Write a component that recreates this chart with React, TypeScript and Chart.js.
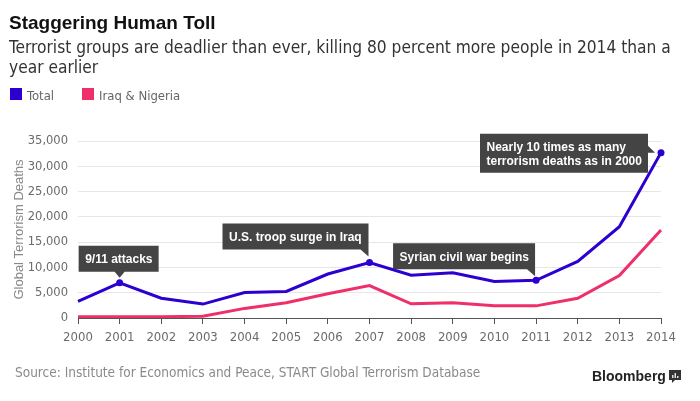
import React, { useEffect, useRef } from "react";
import { Chart, registerables } from "chart.js";

Chart.register(...registerables);

const years = ["2000", "2001", "2002", "2003", "2004", "2005", "2006", "2007", "2008", "2009", "2010", "2011", "2012", "2013", "2014"];
const totalDeaths = [3300, 6950, 3900, 2750, 5050, 5250, 8700, 10950, 8450, 8950, 7200, 7450, 11200, 18050, 32700];
const iraqNigeriaDeaths = [250, 250, 250, 350, 1900, 3000, 4800, 6400, 2800, 3000, 2400, 2400, 3900, 8400, 17400];
const yTicks = [0, 5000, 10000, 15000, 20000, 25000, 30000, 35000];
const seriesNames = ["Total", "Iraq & Nigeria"];
const annotationYears = ["2001", "2007", "2011", "2014"];
const annotationTexts = [
  ["9/11 attacks"],
  ["U.S. troop surge in Iraq"],
  ["Syrian civil war begins"],
  ["Nearly 10 times as many", "terrorism deaths as in 2000"],
];
const titleText = "Staggering Human Toll";
const subtitleLines = [
  "Terrorist groups are deadlier than ever, killing 80 percent more people in 2014 than a",
  "year earlier",
];
const sourceText = "Source: Institute for Economics and Peace, START Global Terrorism Database";
const yAxisTitle = "Global Terrorism Deaths";

const BLUE = "#2c00d0";
const PINK = "#ef2f69";
const COND = "'DejaVu Sans Condensed', 'DejaVu Sans', sans-serif";
const ARIAL = "'Liberation Sans', Arial, sans-serif";

const decorPlugin = {
  id: "decor",
  afterDraw(chart: any) {
    const ctx = chart.ctx as CanvasRenderingContext2D;
    ctx.save();
    // header
    ctx.textAlign = "left";
    ctx.textBaseline = "alphabetic";
    ctx.fillStyle = "#111";
    ctx.font = `bold 19px ${ARIAL}`;
    ctx.fillText(titleText, 9, 28.5);
    ctx.fillStyle = "#333";
    ctx.font = `17.2px ${COND}`;
    subtitleLines.forEach((l, i) => ctx.fillText(l, 9, 53 + i * 20));
    // legend
    ctx.font = `13px ${COND}`;
    const legendX = [10, 82];
    const colors = [BLUE, PINK];
    seriesNames.forEach((n, i) => {
      ctx.fillStyle = colors[i];
      ctx.fillRect(legendX[i], 88, 12, 12);
      ctx.fillStyle = "#666";
      ctx.fillText(n, legendX[i] + 17, 100);
    });
    // source
    ctx.fillStyle = "#8a8a8a";
    ctx.font = `13.5px ${COND}`;
    ctx.fillText(sourceText, 15, 377);
    // Bloomberg
    ctx.fillStyle = "#222";
    ctx.font = `bold 14px ${ARIAL}`;
    ctx.fillText("Bloomberg", 592, 381);
    ctx.fillStyle = "#333";
    ctx.fillRect(669, 370, 12, 10);
    ctx.beginPath();
    ctx.moveTo(672, 380);
    ctx.lineTo(675, 380);
    ctx.lineTo(672, 383);
    ctx.closePath();
    ctx.fill();
    ctx.fillStyle = "#ddd";
    ctx.fillRect(672, 375, 1.5, 3);
    ctx.fillRect(674.5, 373, 1.5, 5);
    ctx.fillRect(677, 376, 1.5, 2);

    // annotations
    const xs = chart.scales.x;
    const ys = chart.scales.y;
    ctx.font = `bold 12px ${ARIAL}`;
    annotationYears.forEach((yr, i) => {
      const idx = years.indexOf(yr);
      const px = xs.getPixelForValue(idx);
      const py = ys.getPixelForValue(totalDeaths[idx]);
      const lines = annotationTexts[i];
      const tw = Math.max(...lines.map((l) => ctx.measureText(l).width));
      const w = Math.round(tw + 13);
      const h = lines.length === 1 ? 26 : 39;
      let left = 0, top = 0;
      ctx.fillStyle = "rgba(58,58,58,0.95)";
      ctx.beginPath();
      if (i === 0) {
        left = px - 41; top = py - 37;
        ctx.rect(left, top, w, h);
        ctx.moveTo(px - 5, top + h);
        ctx.lineTo(px + 5, top + h);
        ctx.lineTo(px, top + h + 6);
      } else if (i === 3) {
        left = px - 13 - w; top = py - 19;
        ctx.rect(left, top, w, h);
        ctx.moveTo(left + w, py - 7);
        ctx.lineTo(left + w + 7, py);
        ctx.lineTo(left + w, py);
      } else {
        left = px - 1 - w; top = i === 1 ? py - 39 : py - 37;
        ctx.rect(left, top, w, h);
        ctx.moveTo(left + w - 8, top + h);
        ctx.lineTo(left + w, top + h);
        ctx.lineTo(left + w, top + h + 7);
      }
      ctx.closePath();
      ctx.fill();
      ctx.fillStyle = "#fff";
      ctx.textBaseline = "alphabetic";
      if (lines.length === 1) {
        ctx.fillText(lines[0], left + 6.5, top + 17.5);
      } else {
        lines.forEach((l, k) => ctx.fillText(l, left + 6.5, top + 17 + k * 14.5));
      }
    });
    ctx.restore();
  },
};

export default function App() {
  const ref = useRef<HTMLCanvasElement | null>(null);
  useEffect(() => {
    if (!ref.current) return;
    const pointRadii = years.map((y) => (annotationYears.includes(y) ? 3.5 : 0));
    const chart = new Chart(ref.current, {
      type: "line",
      data: {
        labels: years,
        datasets: [
          {
            label: seriesNames[1],
            data: iraqNigeriaDeaths,
            borderColor: PINK,
            backgroundColor: PINK,
            borderWidth: 3,
            pointRadius: 0,
            tension: 0,
          },
          {
            label: seriesNames[0],
            data: totalDeaths,
            borderColor: BLUE,
            backgroundColor: BLUE,
            borderWidth: 3,
            pointRadius: pointRadii,
            pointBorderWidth: 0,
            tension: 0,
          },
        ],
      },
      options: {
        responsive: false,
        animation: false,
        devicePixelRatio: 1,
        layout: { padding: { left: 0, right: 39, top: 141, bottom: 53 } },
        plugins: { legend: { display: false }, tooltip: { enabled: false }, title: { display: false } },
        scales: {
          x: {
            offset: false,
            grid: { display: true, drawOnChartArea: false, color: "#555", tickLength: 6, lineWidth: 1 },
            border: { display: true, color: "#555", width: 1 },
            ticks: { color: "#6b6b6b", font: { family: COND, size: 13 }, padding: 6, maxRotation: 0, autoSkip: false },
            afterFit: (s: any) => { s.height = 30; },
          },
          y: {
            min: 0,
            max: 35000,
            afterBuildTicks: (s: any) => { s.ticks = yTicks.map((v) => ({ value: v })); },
            grid: { color: "#e6e6e6", drawTicks: false, lineWidth: 1 },
            border: { display: false },
            ticks: {
              color: "#6b6b6b",
              font: { family: COND, size: 12.8 },
              padding: 10,
              callback: (v: any) => Number(v).toLocaleString("en-US"),
            },
            title: {
              display: true,
              text: yAxisTitle,
              color: "#888",
              font: { family: ARIAL, size: 13 },
              padding: { top: 12, bottom: 0 },
            },
            afterFit: (s: any) => { s.width = 78; },
          },
        },
      },
      plugins: [decorPlugin],
    });
    return () => chart.destroy();
  }, []);
  return (
    <div style={{ position: "absolute", left: 0, top: 0, width: 700, height: 401, background: "#fff" }}>
      <canvas ref={ref} width={700} height={401} style={{ width: 700, height: 401, display: "block" }} />
    </div>
  );
}
